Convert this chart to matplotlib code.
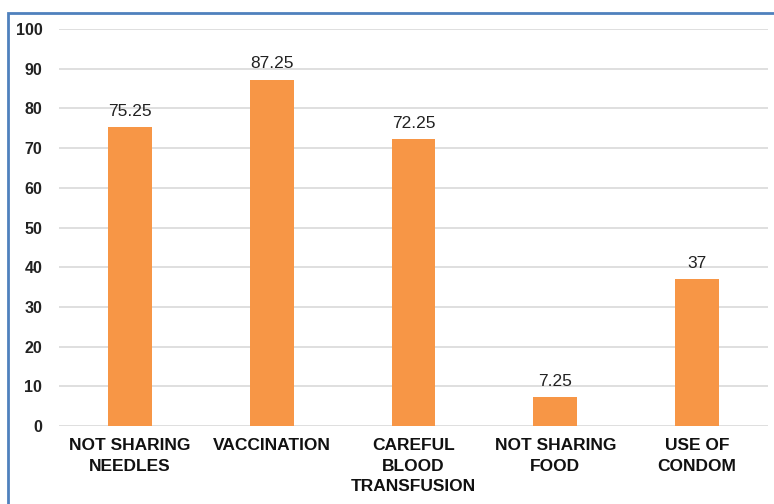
import matplotlib
matplotlib.use("Agg")
import matplotlib.pyplot as plt
from matplotlib.patches import Rectangle

categories = ["NOT SHARING\nNEEDLES", "VACCINATION", "CAREFUL\nBLOOD\nTRANSFUSION",
              "NOT SHARING\nFOOD", "USE OF\nCONDOM"]
values = [75.25, 87.25, 72.25, 7.25, 37]
labels = ["75.25", "87.25", "72.25", "7.25", "37"]
yticks = [0, 10, 20, 30, 40, 50, 60, 70, 80, 90, 100]

plt.rcParams['font.family'] = ['Liberation Sans', 'DejaVu Sans']

fig = plt.figure(figsize=(7.74, 5.04), dpi=100)
ax = fig.add_axes([59/774, 1-426/504, (768-59)/774, (426-29)/504])

x = list(range(len(categories)))
bars = ax.bar(x, values, width=0.31, color="#F79646", zorder=3)
for xi, v, lab in zip(x, values, labels):
    ax.annotate(lab, (xi, v), xytext=(0, 6), textcoords="offset points",
                ha="center", va="bottom", fontsize=12.5, color="#222222")

ax.set_xlim(-0.5, len(categories) - 0.5)
ax.set_ylim(0, 100)
ax.set_yticks(yticks)
ax.set_yticklabels([str(t) for t in yticks], fontsize=11.5, fontweight="semibold", color="#222222")
ax.set_xticks(x)
ax.set_xticklabels(categories, fontsize=12.5, fontweight="bold", color="#111111", linespacing=1.45)
ax.tick_params(axis="both", length=0)
ax.tick_params(axis="y", pad=12)
ax.tick_params(axis="x", pad=9)
ax.grid(axis="y", color="#D9D9D9", linewidth=1.2, zorder=0)
for s in ax.spines.values():
    s.set_visible(False)

fig.patches.append(Rectangle((8/774, -0.1), 1.2, 1 - 13/504 + 0.1, transform=fig.transFigure,
                             fill=False, edgecolor="#4F81BD", linewidth=2, zorder=10))

fig.savefig("out.png", dpi=100, facecolor="white")
